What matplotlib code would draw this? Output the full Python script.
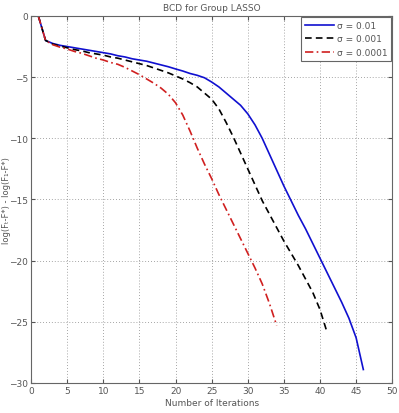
import matplotlib
matplotlib.use("Agg")
import matplotlib.pyplot as plt

# log(F_t - F*) - log(F_1 - F*) per iteration
iters_a = list(range(1, 47))
sigma_a = [0, -2.0, -2.25, -2.4, -2.5, -2.6, -2.7, -2.8, -2.9, -3.0,
           -3.1, -3.25, -3.35, -3.5, -3.6, -3.7, -3.85, -4.0, -4.15, -4.33,
           -4.5, -4.7, -4.85, -5.05, -5.4, -5.8, -6.3, -6.8, -7.3, -8.0,
           -8.9, -10.0, -11.3, -12.6, -13.9, -15.1, -16.3, -17.4, -18.6, -19.8,
           -21.0, -22.2, -23.4, -24.7, -26.3, -28.9]

iters_b = list(range(1, 42))
sigma_b = [0, -2.0, -2.3, -2.45, -2.6, -2.75, -2.85, -3.0, -3.1, -3.2,
           -3.35, -3.45, -3.6, -3.75, -3.9, -4.05, -4.25, -4.45, -4.65, -4.9,
           -5.15, -5.45, -5.8, -6.3, -6.8, -7.6, -8.7, -9.9, -11.2, -12.5,
           -13.8, -15.1, -16.2, -17.3, -18.4, -19.4, -20.4, -21.5, -22.6, -24.0,
           -25.9]

iters_c = list(range(1, 35))
sigma_c = [0, -2.0, -2.35, -2.55, -2.7, -2.9, -3.05, -3.25, -3.45, -3.6,
           -3.8, -3.95, -4.2, -4.5, -4.8, -5.15, -5.5, -5.9, -6.4, -7.1,
           -8.1, -9.4, -10.8, -12.1, -13.3, -14.6, -15.8, -17.0, -18.2, -19.4,
           -20.6, -21.9, -23.5, -25.3]

labels = ["\u03c3 = 0.01", "\u03c3 = 0.001", "\u03c3 = 0.0001"]
xticks = list(range(0, 51, 5))
yticks = list(range(-30, 1, 5))

txt = "#555555"
fig = plt.figure(figsize=(3.99, 4.14), dpi=100)
ax = fig.add_axes([0.078, 0.0725, 0.905, 0.8865])

ax.plot(iters_a, sigma_a, color="#1010d0", lw=1.2, label=labels[0])
ax.plot(iters_b, sigma_b, color="black", lw=1.2, ls=(0, (4, 2.5)), label=labels[1])
ax.plot(iters_c, sigma_c, color="#d02020", lw=1.2, ls=(0, (5, 2, 1, 2)), label=labels[2])

ax.set_xlim(0, 50)
ax.set_ylim(-30, 0)
ax.set_xticks(xticks)
ax.set_yticks(yticks)
ax.tick_params(direction="in", length=3, labelsize=6.5, colors=txt,
               top=True, right=True, pad=2)
ax.grid(True, ls=(0, (1, 2.5)), color="#888888", lw=0.6)
for s in ax.spines.values():
    s.set_color("#666666")

ax.set_title("BCD for Group LASSO", fontsize=6.5, color=txt, pad=4)
ax.set_xlabel("Number of Iterations", fontsize=6.5, color=txt, labelpad=2)
# y label placed by hand so it sits in the narrow left margin like the original
fig.text(0.016, 0.5165, "log(F\u209c-F*) - log(F\u2081-F*)", rotation=90,
         ha="center", va="center", fontsize=6, color=txt)

leg = ax.legend(loc="upper right", fontsize=6.5, fancybox=False, framealpha=1,
                edgecolor="#666666", handlelength=3.2, handletextpad=0.3,
                borderaxespad=0.15, labelspacing=0.5)
for t in leg.get_texts():
    t.set_color(txt)
leg.get_frame().set_linewidth(0.8)

fig.savefig("out.png", dpi=100)
